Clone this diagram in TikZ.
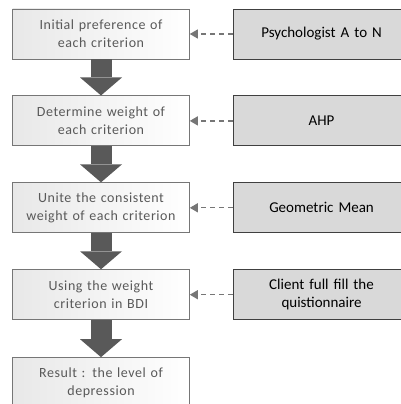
\documentclass[tikz,border=0pt]{standalone}
\usepackage{fontspec}
\setmainfont{Carlito}
\usetikzlibrary{arrows.meta,positioning}
\definecolor{boxgray}{HTML}{D9D9D9}
\definecolor{linegray}{HTML}{767676}
\definecolor{textgray}{HTML}{595959}
\definecolor{arrowgray}{HTML}{595959}

\begin{document}
\begin{tikzpicture}[node distance=36pt, stepbox/.style={rectangle, draw=linegray, line width=0.9pt, left color=black!9, right color=white, minimum width=176pt, minimum height=50pt, text width=170pt, align=center, text=textgray, font=\fontsize{14}{18}\selectfont\addfontfeature{LetterSpace=4}}, srcbox/.style={rectangle, draw=black!75, line width=0.9pt, fill=boxgray, minimum width=176pt, minimum height=50pt, text width=170pt, align=center, font=\fontsize{15}{18}\selectfont}, blockarrow/.style={arrowgray, line width=21pt, -{Triangle[length=18pt, width=42pt, line width=0pt]}}, dasharrow/.style={linegray, line width=1.2pt, dash pattern=on 5pt off 4pt, -{Triangle[length=8pt, width=9pt]}}]

    \clip (0,0) rectangle (401pt,-404pt);
    \useasboundingbox (0,0) rectangle (401pt,-404pt);

    \node[stepbox] (init) at (101pt,-34pt) {Initial preference of\\ each criterion};
    \node[stepbox, below=36pt of init] (weight) {Determine weight of\\ each criterion};
    \node[stepbox, below=36pt of weight] (unite) {Unite the consistent\\ weight of each criterion};
    \node[stepbox, below=36pt of unite] (using) {Using the weight\\ criterion in BDI};
    \node[stepbox, below=37pt of using] (result) {Result : the level of\\ depression};

    \node[srcbox, right=43pt of init] (psych) {Psychologist A to N};
    \node[srcbox, right=43pt of weight] (ahp) {AHP};
    \node[srcbox, right=43pt of unite] (geomean) {Geometric Mean};
    \node[srcbox, right=43pt of using] (client) {Client full fill the\\ quistionnaire};

    \draw[blockarrow] (init) -- (weight);
    \draw[blockarrow] (weight) -- (unite);
    \draw[blockarrow] (unite) -- (using);
    \draw[blockarrow] (using) -- (result);

    \draw[dasharrow] (psych) -- (init);
    \draw[dasharrow] (ahp) -- (weight);
    \draw[dasharrow] (geomean) -- (unite);
    \draw[dasharrow] (client) -- (using);

\end{tikzpicture}
\end{document}
